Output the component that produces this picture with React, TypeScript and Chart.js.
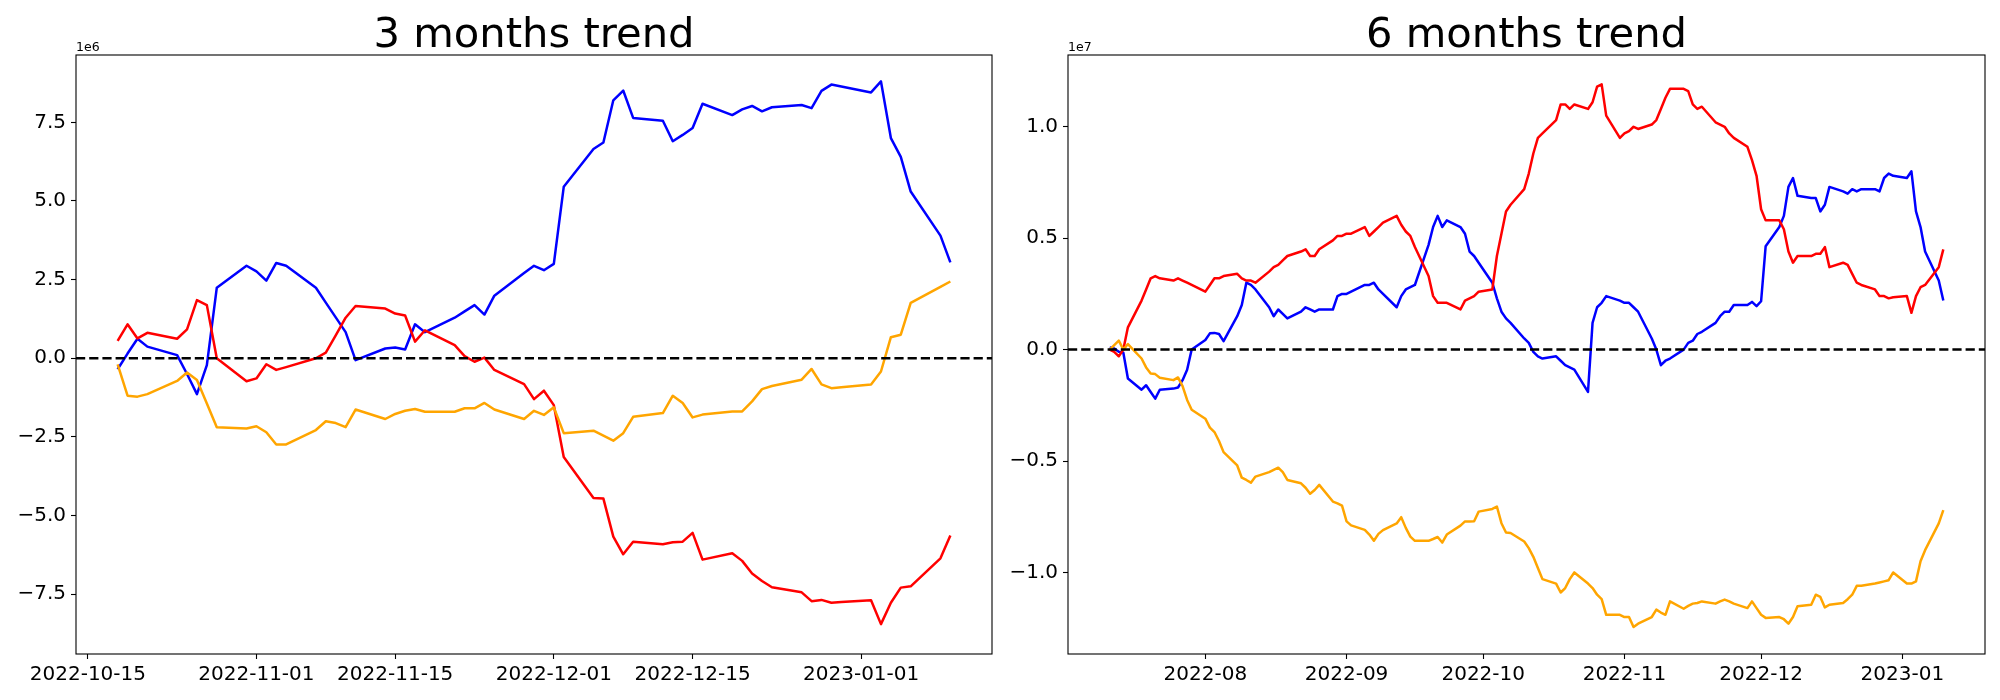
import React, { useEffect, useRef } from "react";
import { Chart, registerables } from "chart.js";

Chart.register(...registerables);

const FONT = "'DejaVu Sans', 'Liberation Sans', sans-serif";

// ---------------- 3 months (values in 1e6) ----------------
const leftDates = [
  "2022-10-18", "2022-10-19", "2022-10-20", "2022-10-21",
  "2022-10-24", "2022-10-25", "2022-10-26", "2022-10-27", "2022-10-28",
  "2022-10-31", "2022-11-01", "2022-11-02", "2022-11-03", "2022-11-04",
  "2022-11-07", "2022-11-08", "2022-11-09", "2022-11-10", "2022-11-11",
  "2022-11-14", "2022-11-15", "2022-11-16", "2022-11-17", "2022-11-18",
  "2022-11-21", "2022-11-22", "2022-11-23", "2022-11-24", "2022-11-25",
  "2022-11-28", "2022-11-29", "2022-11-30", "2022-12-01", "2022-12-02",
  "2022-12-05", "2022-12-06", "2022-12-07", "2022-12-08", "2022-12-09",
  "2022-12-12", "2022-12-13", "2022-12-14", "2022-12-15", "2022-12-16",
  "2022-12-19", "2022-12-20", "2022-12-21", "2022-12-22", "2022-12-23",
  "2022-12-26", "2022-12-27", "2022-12-28", "2022-12-29", "2022-12-30",
  "2023-01-02", "2023-01-03", "2023-01-04", "2023-01-05", "2023-01-06",
  "2023-01-09", "2023-01-10",
];
const leftBlue = [
  -0.35, 0.15, 0.62, 0.37,
  0.10, -0.5, -1.14, -0.22, 2.24,
  2.94, 2.76, 2.47, 3.03, 2.94,
  2.24, 1.77, 1.30, 0.83, -0.06,
  0.31, 0.34, 0.28, 1.08, 0.83,
  1.29, 1.49, 1.69, 1.39, 1.99,
  2.71, 2.94, 2.80, 3.0, 5.45,
  6.65, 6.86, 8.2, 8.51, 7.64,
  7.55, 6.9, 7.1, 7.32, 8.09,
  7.73, 7.91, 8.02, 7.85, 7.98,
  8.05, 7.95, 8.5, 8.7, 8.64,
  8.45, 8.8, 7.0, 6.4, 5.3,
  3.9, 3.05,
];
const leftRed = [
  0.55, 1.08, 0.63, 0.81,
  0.62, 0.92, 1.85, 1.69, 0.0,
  -0.73, -0.64, -0.19, -0.37, -0.28,
  0.0, 0.18, 0.73, 1.29, 1.66,
  1.58, 1.42, 1.36, 0.53, 0.89,
  0.42, 0.07, -0.11, 0.02, -0.37,
  -0.82, -1.30, -1.03, -1.49, -3.14,
  -4.44, -4.46, -5.67, -6.23, -5.83,
  -5.91, -5.85, -5.83, -5.55, -6.40,
  -6.2, -6.44, -6.84, -7.08, -7.28,
  -7.44, -7.72, -7.68, -7.77, -7.75,
  -7.69, -8.45, -7.77, -7.29, -7.25,
  -6.36, -5.63,
];
const leftOrange = [
  -0.19, -1.19, -1.22, -1.14,
  -0.72, -0.45, -0.69, -1.44, -2.19,
  -2.23, -2.16, -2.35, -2.74, -2.74,
  -2.28, -2.0, -2.06, -2.19, -1.63,
  -1.93, -1.77, -1.67, -1.61, -1.70,
  -1.70, -1.59, -1.59, -1.42, -1.63,
  -1.93, -1.67, -1.80, -1.56, -2.38,
  -2.30, -2.46, -2.62, -2.38, -1.86,
  -1.74, -1.19, -1.42, -1.88, -1.79,
  -1.69, -1.69, -1.37, -0.98, -0.88,
  -0.68, -0.34, -0.83, -0.95, -0.92,
  -0.83, -0.42, 0.67, 0.75, 1.76,
  2.27, 2.44,
];
const leftTickDates = ["2022-10-15", "2022-11-01", "2022-11-15", "2022-12-01", "2022-12-15", "2023-01-01"];
const leftTickLabels = ["2022-10-15", "2022-11-01", "2022-11-15", "2022-12-01", "2022-12-15", "2023-01-01"];
const leftYTicks = [-7.5, -5.0, -2.5, 0.0, 2.5, 5.0, 7.5];
const leftYRange = [-9.40, 9.64];

// ---------------- 6 months (values in 1e7) ----------------
const rightDates = [
  "2022-07-11", "2022-07-12", "2022-07-13", "2022-07-14", "2022-07-15",
  "2022-07-18", "2022-07-19", "2022-07-20", "2022-07-21", "2022-07-22",
  "2022-07-25", "2022-07-26", "2022-07-27", "2022-07-28", "2022-07-29",
  "2022-08-01", "2022-08-02", "2022-08-03", "2022-08-04", "2022-08-05",
  "2022-08-08", "2022-08-09", "2022-08-10", "2022-08-11", "2022-08-12",
  "2022-08-15", "2022-08-16", "2022-08-17", "2022-08-18", "2022-08-19",
  "2022-08-22", "2022-08-23", "2022-08-24", "2022-08-25", "2022-08-26",
  "2022-08-29", "2022-08-30", "2022-08-31", "2022-09-01", "2022-09-02",
  "2022-09-05", "2022-09-06", "2022-09-07", "2022-09-08", "2022-09-09",
  "2022-09-12", "2022-09-13", "2022-09-14", "2022-09-15", "2022-09-16",
  "2022-09-19", "2022-09-20", "2022-09-21", "2022-09-22", "2022-09-23",
  "2022-09-26", "2022-09-27", "2022-09-28", "2022-09-29", "2022-09-30",
  "2022-10-03", "2022-10-04", "2022-10-05", "2022-10-06", "2022-10-07",
  "2022-10-10", "2022-10-11", "2022-10-12", "2022-10-13", "2022-10-14",
  "2022-10-17", "2022-10-18", "2022-10-19", "2022-10-20", "2022-10-21",
  "2022-10-24", "2022-10-25", "2022-10-26", "2022-10-27", "2022-10-28",
  "2022-10-31", "2022-11-01", "2022-11-02", "2022-11-03", "2022-11-04",
  "2022-11-07", "2022-11-08", "2022-11-09", "2022-11-10", "2022-11-11",
  "2022-11-14", "2022-11-15", "2022-11-16", "2022-11-17", "2022-11-18",
  "2022-11-21", "2022-11-22", "2022-11-23", "2022-11-24", "2022-11-25",
  "2022-11-28", "2022-11-29", "2022-11-30", "2022-12-01", "2022-12-02",
  "2022-12-05", "2022-12-06", "2022-12-07", "2022-12-08", "2022-12-09",
  "2022-12-12", "2022-12-13", "2022-12-14", "2022-12-15", "2022-12-16",
  "2022-12-19", "2022-12-20", "2022-12-21", "2022-12-22", "2022-12-23",
  "2022-12-26", "2022-12-27", "2022-12-28", "2022-12-29", "2022-12-30",
  "2023-01-02", "2023-01-03", "2023-01-04", "2023-01-05", "2023-01-06",
  "2023-01-09", "2023-01-10",
];
const rightBlue = [
  0.01, 0.005, -0.01, -0.014, -0.13,
  -0.18, -0.16, -0.19, -0.22, -0.18,
  -0.175, -0.17, -0.137, -0.09, 0.0,
  0.043, 0.073, 0.075, 0.07, 0.038,
  0.15, 0.2, 0.3, 0.29, 0.27,
  0.19, 0.15, 0.18, 0.16, 0.14,
  0.17, 0.19, 0.18, 0.17, 0.18,
  0.18, 0.24, 0.25, 0.25, 0.26,
  0.29, 0.29, 0.30, 0.27, 0.25,
  0.19, 0.24, 0.27, 0.28, 0.29,
  0.47, 0.55, 0.60, 0.55, 0.58,
  0.55, 0.52, 0.44, 0.42, 0.39,
  0.30, 0.23, 0.17, 0.14, 0.12,
  0.05, 0.03, -0.01, -0.03, -0.04,
  -0.03, -0.05, -0.07, -0.08, -0.09,
  -0.19, 0.12, 0.19, 0.21, 0.24,
  0.22, 0.21, 0.21, 0.19, 0.17,
  0.05, 0.0, -0.07, -0.05, -0.04,
  0.0, 0.03, 0.04, 0.07, 0.08,
  0.12, 0.15, 0.17, 0.17, 0.20,
  0.20, 0.214, 0.195, 0.217, 0.464,
  0.55, 0.60, 0.73, 0.77, 0.69,
  0.68, 0.68, 0.62, 0.65, 0.73,
  0.71, 0.70, 0.72, 0.71, 0.72,
  0.72, 0.71, 0.77, 0.79, 0.78,
  0.77, 0.80, 0.62, 0.55, 0.44,
  0.31, 0.22,
];
const rightRed = [
  0.0, -0.01, -0.03, 0.0, 0.10,
  0.22, 0.27, 0.32, 0.33, 0.32,
  0.31, 0.32, 0.31, 0.30, 0.29,
  0.26, 0.29, 0.32, 0.32, 0.33,
  0.34, 0.32, 0.31, 0.31, 0.30,
  0.35, 0.37, 0.38, 0.40, 0.42,
  0.44, 0.45, 0.42, 0.42, 0.45,
  0.49, 0.51, 0.51, 0.52, 0.52,
  0.55, 0.51, 0.53, 0.55, 0.57,
  0.60, 0.56, 0.53, 0.51, 0.46,
  0.33, 0.24, 0.21, 0.21, 0.21,
  0.18, 0.22, 0.23, 0.24, 0.26,
  0.27, 0.42, 0.52, 0.62, 0.65,
  0.72, 0.79, 0.88, 0.95, 0.97,
  1.03, 1.10, 1.10, 1.08, 1.10,
  1.08, 1.11, 1.18, 1.19, 1.05,
  0.95, 0.97, 0.98, 1.0, 0.99,
  1.01, 1.03, 1.08, 1.13, 1.17,
  1.17, 1.16, 1.10, 1.08, 1.09,
  1.02, 1.01, 1.00, 0.97, 0.95,
  0.91, 0.85, 0.78, 0.63, 0.58,
  0.58, 0.54, 0.44, 0.39, 0.42,
  0.42, 0.43, 0.43, 0.46, 0.37,
  0.39, 0.38, 0.34, 0.30, 0.29,
  0.27, 0.24, 0.24, 0.23, 0.235,
  0.24, 0.165, 0.24, 0.28, 0.29,
  0.37, 0.45,
];
const rightOrange = [
  0.0, 0.02, 0.04, 0.0, 0.025,
  -0.04, -0.08, -0.107, -0.11, -0.126,
  -0.137, -0.125, -0.164, -0.226, -0.27,
  -0.31, -0.35, -0.37, -0.41, -0.46,
  -0.52, -0.575, -0.585, -0.597, -0.57,
  -0.55, -0.54, -0.53, -0.55, -0.585,
  -0.60, -0.62, -0.647, -0.63, -0.607,
  -0.682, -0.69, -0.70, -0.771, -0.789,
  -0.809, -0.83, -0.858, -0.827, -0.81,
  -0.78, -0.752, -0.80, -0.839, -0.858,
  -0.858, -0.85, -0.841, -0.866, -0.83,
  -0.79, -0.771, -0.771, -0.77, -0.727,
  -0.715, -0.704, -0.779, -0.821, -0.823,
  -0.861, -0.891, -0.93, -0.98, -1.03,
  -1.05, -1.09, -1.07, -1.03, -1.0,
  -1.05, -1.07, -1.10, -1.12, -1.19,
  -1.19, -1.20, -1.20, -1.245, -1.23,
  -1.20, -1.167, -1.18, -1.19, -1.13,
  -1.163, -1.15, -1.14, -1.137, -1.13,
  -1.14, -1.13, -1.122, -1.13, -1.14,
  -1.16, -1.13, -1.16, -1.19, -1.204,
  -1.2, -1.21, -1.23, -1.20, -1.152,
  -1.145, -1.10, -1.11, -1.157, -1.145,
  -1.137, -1.12, -1.10, -1.06, -1.06,
  -1.05, -1.045, -1.04, -1.035, -1.0,
  -1.05, -1.05, -1.04, -0.95, -0.90,
  -0.78, -0.72,
];
const rightTickDates = ["2022-08-01", "2022-09-01", "2022-10-01", "2022-11-01", "2022-12-01", "2023-01-01"];
const rightTickLabels = ["2022-08", "2022-09", "2022-10", "2022-11", "2022-12", "2023-01"];
const rightYTicks = [-1.0, -0.5, 0.0, 0.5, 1.0];
const rightYRange = [-1.366, 1.322];

const DAY = 86400000;
const toDay = (s: string) =>
  Date.UTC(+s.slice(0, 4), +s.slice(5, 7) - 1, +s.slice(8, 10)) / DAY;

const fmtY = (v: number) => (v < 0 ? "\u2212" : "") + Math.abs(v).toFixed(1);

const LW = 2.5;

const framePlugin = {
  id: "mplFrame",
  afterDatasetsDraw(chart: any, _args: any, opts: any) {
    const { ctx, chartArea: a, scales } = chart;
    const y0 = scales.y.getPixelForValue(0);
    ctx.save();
    ctx.beginPath();
    ctx.rect(a.left, a.top, a.right - a.left, a.bottom - a.top);
    ctx.clip();
    ctx.setLineDash([9.2, 4.0]);
    ctx.lineWidth = LW;
    ctx.strokeStyle = "#000";
    ctx.beginPath();
    ctx.moveTo(a.left, y0);
    ctx.lineTo(a.right, y0);
    ctx.stroke();
    ctx.restore();

    ctx.save();
    ctx.lineWidth = 1.1;
    ctx.strokeStyle = "#000";
    ctx.strokeRect(a.left, a.top, a.right - a.left, a.bottom - a.top);
    ctx.fillStyle = "#000";
    ctx.font = `41.7px ${FONT}`;
    ctx.textAlign = "center";
    ctx.textBaseline = "alphabetic";
    ctx.fillText(opts.title, (a.left + a.right) / 2, a.top - 8.3);
    ctx.font = `12.5px ${FONT}`;
    ctx.textAlign = "left";
    ctx.fillText(opts.offset, a.left, a.top - 4.5);
    ctx.restore();
  },
};

type Cfg = {
  title: string;
  offset: string;
  dates: string[];
  blue: number[];
  red: number[];
  orange: number[];
  tickDates: string[];
  tickLabels: string[];
  yTicks: number[];
  yRange: number[];
  axisWidth: number;
  padRight: number;
};

function makeChart(canvas: HTMLCanvasElement, c: Cfg) {
  const xs = c.dates.map(toDay);
  const xMin = Math.min(...xs);
  const xMax = Math.max(...xs);
  const m = (xMax - xMin) * 0.05;
  const pts = (arr: number[]) => arr.map((v, i) => ({ x: xs[i], y: v }));
  const line = (label: string, color: string, arr: number[]) => ({
    label,
    data: pts(arr),
    borderColor: color,
    backgroundColor: color,
    borderWidth: LW,
    pointRadius: 0,
    tension: 0,
    fill: false,
    borderJoinStyle: "round" as const,
  });
  return new Chart(canvas, {
    type: "line",
    data: {
      datasets: [
        line("orange", "#ffa500", c.orange),
        line("red", "#ff0000", c.red),
        line("blue", "#0000ff", c.blue),
      ],
    },
    plugins: [framePlugin],
    options: {
      animation: false,
      responsive: false,
      devicePixelRatio: 1,
      layout: { padding: { top: 55, right: c.padRight, left: 0, bottom: 0 } },
      plugins: {
        legend: { display: false },
        tooltip: { enabled: false },
        title: { display: false },
        mplFrame: { title: c.title, offset: c.offset },
      } as any,
      scales: {
        x: {
          type: "linear",
          min: xMin - m,
          max: xMax + m,
          afterBuildTicks: (s: any) => {
            s.ticks = c.tickDates.map((d) => ({ value: toDay(d) }));
          },
          afterFit: (s: any) => {
            s.height = 46;
          },
          ticks: {
            autoSkip: false,
            maxRotation: 0,
            minRotation: 0,
            padding: 4,
            color: "#000",
            font: { family: FONT, size: 20 },
            callback: (_v: any, i: number) => c.tickLabels[i],
          },
          grid: {
            display: true,
            drawOnChartArea: false,
            drawTicks: true,
            tickLength: 5,
            tickWidth: 1.1,
            tickColor: "#000",
          },
          border: { display: false },
        },
        y: {
          type: "linear",
          min: c.yRange[0],
          max: c.yRange[1],
          afterBuildTicks: (s: any) => {
            s.ticks = c.yTicks.map((v) => ({ value: v }));
          },
          afterFit: (s: any) => {
            s.width = c.axisWidth;
          },
          ticks: {
            padding: 5,
            color: "#000",
            font: { family: FONT, size: 20 },
            callback: (v: any) => fmtY(Number(v)),
          },
          grid: {
            display: true,
            drawOnChartArea: false,
            drawTicks: true,
            tickLength: 5,
            tickWidth: 1.1,
            tickColor: "#000",
          },
          border: { display: false },
        },
      },
    } as any,
  });
}

export default function App() {
  const leftRef = useRef<HTMLCanvasElement>(null);
  const rightRef = useRef<HTMLCanvasElement>(null);

  useEffect(() => {
    document.body.style.margin = "0";
    const c1 = makeChart(leftRef.current!, {
      title: "3 months trend",
      offset: "1e6",
      dates: leftDates,
      blue: leftBlue,
      red: leftRed,
      orange: leftOrange,
      tickDates: leftTickDates,
      tickLabels: leftTickLabels,
      yTicks: leftYTicks,
      yRange: leftYRange,
      axisWidth: 76,
      padRight: 8,
    });
    const c2 = makeChart(rightRef.current!, {
      title: "6 months trend",
      offset: "1e7",
      dates: rightDates,
      blue: rightBlue,
      red: rightRed,
      orange: rightOrange,
      tickDates: rightTickDates,
      tickLabels: rightTickLabels,
      yTicks: rightYTicks,
      yRange: rightYRange,
      axisWidth: 68,
      padRight: 15,
    });
    return () => {
      c1.destroy();
      c2.destroy();
    };
  }, []);

  return (
    <div style={{ position: "relative", width: 2000, height: 700, background: "#fff" }}>
      <canvas ref={leftRef} width={1000} height={700} style={{ position: "absolute", left: 0, top: 0 }} />
      <canvas ref={rightRef} width={1000} height={700} style={{ position: "absolute", left: 1000, top: 0 }} />
    </div>
  );
}
